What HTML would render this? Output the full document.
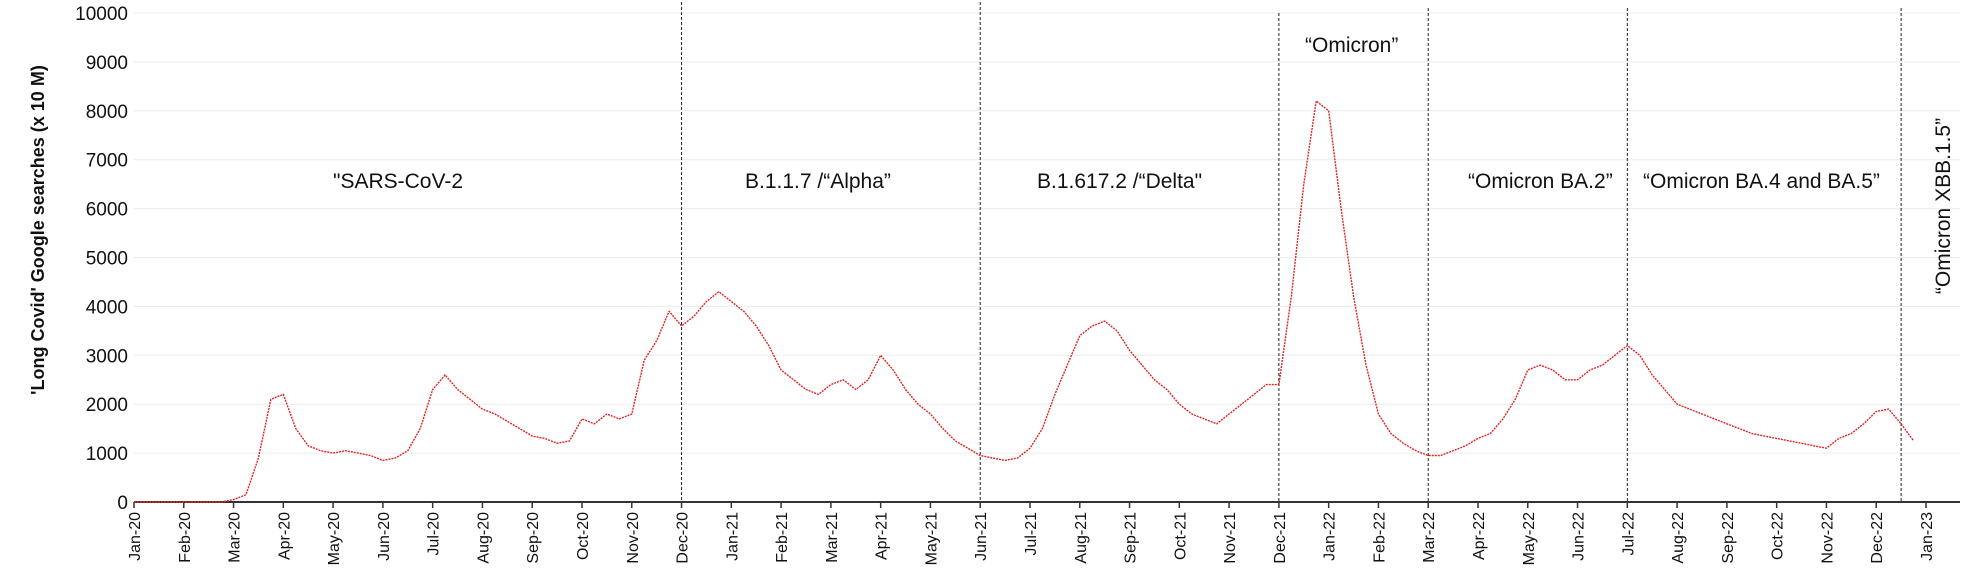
<!DOCTYPE html>
<html><head><meta charset="utf-8"><style>
html,body{margin:0;padding:0;background:#fff;}
svg{display:block;font-family:"Liberation Sans",sans-serif;}
</style></head><body>
<svg id="chart" width="1982" height="579" viewBox="0 0 1982 579" xmlns="http://www.w3.org/2000/svg">
<g id="grid"></g>
<g id="yticks"></g>
<g id="xticks"></g>
<g id="vlines"></g>
<g id="series"></g>
<text transform="translate(44,230) rotate(-90)" text-anchor="middle" font-size="18" font-weight="bold" fill="#111">'Long Covid' Google searches (x 10 M)</text>
<g font-size="21" fill="#111">
<text x="333" y="188">"SARS-CoV-2</text>
<text x="745" y="188">B.1.1.7 /“Alpha”</text>
<text x="1037" y="188">B.1.617.2 /“Delta"</text>
<text x="1305" y="52">“Omicron”</text>
<text x="1468" y="188">“Omicron BA.2”</text>
<text x="1643" y="188">“Omicron BA.4 and BA.5”</text>
<text transform="translate(1950,206) rotate(-90)" text-anchor="middle">“Omicron XBB.1.5”</text>
</g>
</svg>
<script>
const yTicks = [0,1000,2000,3000,4000,5000,6000,7000,8000,9000,10000];
const monthLabels = ["Jan-20","Feb-20","Mar-20","Apr-20","May-20","Jun-20","Jul-20","Aug-20","Sep-20","Oct-20","Nov-20","Dec-20","Jan-21","Feb-21","Mar-21","Apr-21","May-21","Jun-21","Jul-21","Aug-21","Sep-21","Oct-21","Nov-21","Dec-21","Jan-22","Feb-22","Mar-22","Apr-22","May-22","Jun-22","Jul-22","Aug-22","Sep-22","Oct-22","Nov-22","Dec-22","Jan-23"];
// variant divider positions in months since Jan-20
const dividerMonths = [11,17,23,26,30,35.5];
const dividerTops = [2,2,13,8,8,8];
// quarter-month searches values
const searches = [
0,0,0,0, 0,0,0,0, 50,150,900,2100, 2200,1500,1150,1050,
1000,1050,1000,950, 850,900,1050,1500, 2300,2600,2300,2100, 1900,1800,1650,1500,
1350,1300,1200,1250, 1700,1600,1800,1700, 1800,2900,3300,3900, 3600,3800,4100,4300,
4100,3900,3600,3200, 2700,2500,2300,2200, 2400,2500,2300,2500, 3000,2700,2300,2000,
1800,1500,1250,1100, 950,900,850,900, 1100,1500,2200,2800, 3400,3600,3700,3500,
3100,2800,2500,2300, 2000,1800,1700,1600, 1800,2000,2200,2400, 2400,4200,6500,8200,
8000,6000,4200,2800, 1800,1400,1200,1050, 950,950,1050,1150, 1300,1400,1700,2100,
2700,2800,2700,2500, 2500,2700,2800,3000, 3200,3000,2600,2300, 2000,1900,1800,1700,
1600,1500,1400,1350, 1300,1250,1200,1150, 1100,1300,1400,1600, 1850,1900,1600,1250];

const X0=134, X1=1926, Y0=502, Y1=13, XEND=1960;
const xScale = m => X0 + m*(X1-X0)/36;
const yScale = v => Y0 - v*(Y0-Y1)/10000;
const NS="http://www.w3.org/2000/svg";
function mk(tag, parent, attrs){const e=document.createElementNS(NS,tag);for(const k in attrs)e.setAttribute(k,attrs[k]);parent.appendChild(e);return e;}

const grid=document.getElementById('grid'), yg=document.getElementById('yticks');
yTicks.forEach(t=>{
  if(t>0){const l=mk('line',grid,{x1:X0,x2:XEND,y1:yScale(t),y2:yScale(t),stroke:'#ececec','stroke-width':1});
  
  }
  const tx=mk('text',yg,{x:128,y:yScale(t)+7,'text-anchor':'end','font-size':19,fill:'#111'});
  
  
  tx.textContent=t;
});
const xg=document.getElementById('xticks');
const ax=mk('line',xg,{x1:X0,x2:XEND,y1:Y0,y2:Y0,stroke:'#333','stroke-width':2});


monthLabels.forEach((lab,i)=>{
  const x=xScale(i);
  const tk=mk('line',xg,{x1:x,x2:x,y1:Y0,y2:Y0+6,stroke:'#333','stroke-width':1.5});
  
  
  const tx=mk('text',xg,{transform:`translate(${x+6},${Y0+10}) rotate(-90)`,'text-anchor':'end','font-size':16,fill:'#111'});
  
  
  tx.textContent=lab;
});
const vg=document.getElementById('vlines');
dividerMonths.forEach((m,i)=>{
  const x=xScale(m);
  const l=mk('line',vg,{x1:x,x2:x,y1:dividerTops[i],y2:Y0,stroke:'#222','stroke-width':1,'stroke-dasharray':'3 2'});
  
  
});
const pts=searches.map((v,i)=>xScale(i/4).toFixed(1)+','+yScale(v).toFixed(1)).join(' ');
const pl=mk('polyline',document.getElementById('series'),{points:pts,fill:'none',stroke:'#e02424','stroke-width':1.4,'stroke-dasharray':'2 1','stroke-linejoin':'round'});


</script>
</body></html>
